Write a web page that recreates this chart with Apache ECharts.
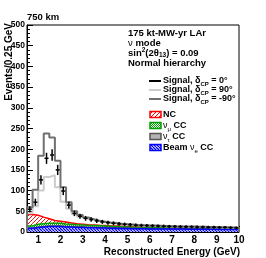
<!DOCTYPE html>
<html><head><meta charset="utf-8">
<script src="https://cdn.jsdelivr.net/npm/echarts@6/dist/echarts.min.js"></script>
<style>html,body{margin:0;padding:0;background:#fff}#c{width:266px;height:258px}</style>
</head><body><div id="c"></div>
<script>
// ---- Data (bins of 0.25 GeV from 0.5 to 10 GeV) ----
const binStart = 0.5;
const binWidth = 0.25;
const xTickLabels = [1,2,3,4,5,6,7,8,9,10];
// background components (stacked, bottom to top)
const beamNueCC = [9,11,12,13,13,13,12,12,11,11, 10,10,9.5,9.5,9,9,8.5,8.5,8,8, 8,7.5,7.5,7.5,7,7,7,7,6.5,6.5, 6.5,6.5,6.5,6.5,6,6,6,6];
const nutauCC   = [0.3,0.5,1,1.5,1.5,1.5,1.5,1.5,1.5,1.5, 1.5,1.5,1.5,1.5,1.2,1.2,1.2,1.2,1,1, 1,1,1,1,1,0.8,0.8,0.8,0.8,0.8, 0.8,0.8,0.7,0.7,0.7,0.7,0.6,0.6];
const numuCC    = [5,7,7,6.5,6.5,6.5,6,5.5,5,4.5, 4.5,4,4,3.5,3.5,3,3,2.5,2.5,2.5, 2,2,2,2,2,2,1.8,1.8,1.8,1.8, 1.6,1.6,1.6,1.5,1.5,1.5,1.4,1.4];
const ncBkg     = [28,22,16,11,7,5,4.5,3,2.5,2, 1.5,1.5,1.2,1.2,1,1,1,0.8,0.8,0.8, 0.7,0.7,0.7,0.6,0.6,0.6,0.6,0.5,0.5,0.5, 0.5,0.5,0.5,0.5,0.5,0.5,0.5,0.5];
// signal + background totals
const sigCPm90 = [60,102,184,238,228,172,108,72,50,41, 35,31,27,25,23,21.5,20,19,18,17, 16.5,16,15.5,15,14.5,14,13.5,13.5,13,13, 12.5,12.5,12,12,11.5,11.5,11,10.5];
const sigCP90  = [45,62,100,133,137,108,73,56,43,36, 32,29,26,24,22,20.5,19.5,18.5,17.5,16.5, 16,15.5,15,14.5,14,13.5,13.5,13,12.5,12.5, 12,12,11.5,11.5,11,11,10.5,10];
const sigCP0   = [55,72,126,178,186,150,99,65,45,38, 33,30,27,24.5,22.5,21,19.5,18.5,17.5,16.5, 16,15.5,15,14.5,14,13.5,13.5,13,12.5,12.5, 12,12,11.5,11.5,11,11,10.5,10];

const nBins = sigCP0.length;
const edges = [];
for (let i = 0; i <= nBins; i++) edges.push(binStart + binWidth * i);

// ---- patterns ----
function hatch(color, spacing, lw, dir) {
  const c = document.createElement('canvas');
  c.width = spacing; c.height = spacing;
  const g = c.getContext('2d');
  g.fillStyle = '#fff'; g.fillRect(0, 0, spacing, spacing);
  g.strokeStyle = color; g.lineWidth = lw;
  for (let k = -1; k <= 1; k++) {
    g.beginPath();
    if (dir === '/') { g.moveTo(k*spacing, spacing); g.lineTo(k*spacing + spacing, 0); }
    else { g.moveTo(k*spacing, 0); g.lineTo(k*spacing + spacing, spacing); }
    g.stroke();
  }
  return { image: c, repeat: 'repeat' };
}
function dots(color) {
  const c = document.createElement('canvas');
  c.width = 2; c.height = 2;
  const g = c.getContext('2d');
  g.fillStyle = '#fff'; g.fillRect(0, 0, 2, 2);
  g.fillStyle = color; g.fillRect(0, 0, 1, 1); g.fillRect(1, 1, 1, 1);
  return { image: c, repeat: 'repeat' };
}
const RED = '#ff0000', GREEN = '#00a000', BLUE = '#0000ff', TAU = '#555555';
const patNC = hatch(RED, 4, 1, '/');
const patNumu = dots(GREEN);
const patNue = hatch(BLUE, 3, 1.3, '\\');
const fillTau = '#b4b4b4';

// cumulative stacks
const comps = [
  { name: 'beam', vals: beamNueCC, fill: patNue, stroke: BLUE },
  { name: 'tau', vals: nutauCC, fill: fillTau, stroke: TAU },
  { name: 'numu', vals: numuCC, fill: patNumu, stroke: GREEN },
  { name: 'nc', vals: ncBkg, fill: patNC, stroke: RED }
];
let running = new Array(nBins).fill(0);
comps.forEach(cmp => {
  cmp.lo = running.slice();
  cmp.hi = running.map((v, i) => v + cmp.vals[i]);
  running = cmp.hi.slice();
});

function stepData(vals) {
  const d = [[edges[0], 0]];
  for (let i = 0; i < vals.length; i++) d.push([edges[i], vals[i]]);
  d.push([edges[vals.length], vals[vals.length - 1]]);
  d.push([edges[vals.length], 0]);
  return d;
}

const series = [];
comps.forEach((cmp, ci) => {
  series.push({
    type: 'custom', z: 2 + ci * 0.01, silent: true, clip: true,
    data: cmp.vals.map((v, i) => [edges[i], edges[i + 1], cmp.lo[i], cmp.hi[i]]),
    encode: { x: [0, 1], y: [2, 3] },
    renderItem: function (params, api) {
      const p0 = api.coord([api.value(0), api.value(3)]);
      const p1 = api.coord([api.value(1), api.value(2)]);
      return { type: 'rect', shape: { x: p0[0], y: p0[1], width: p1[0] - p0[0], height: p1[1] - p0[1] },
               style: { fill: cmp.fill, stroke: null } };
    }
  });
});
comps.forEach((cmp, ci) => {
  series.push({
    type: 'line', step: 'end', z: 3 + (3 - ci) * 0.01, showSymbol: false, silent: true,
    data: stepData(cmp.hi), lineStyle: { color: cmp.stroke, width: 1.5 }
  });
});
series.push({ type: 'line', step: 'end', z: 4, showSymbol: false, silent: true,
  data: stepData(sigCP90), lineStyle: { color: '#cccccc', width: 2 } });
series.push({ type: 'line', step: 'end', z: 4.1, showSymbol: false, silent: true,
  data: stepData(sigCPm90), lineStyle: { color: '#707070', width: 2 } });
series.push({
  type: 'custom', z: 5, silent: true,
  data: sigCP0.map((v, i) => [(edges[i] + edges[i + 1]) / 2, v, Math.sqrt(v)]),
  encode: { x: 0, y: 1 },
  renderItem: function (params, api) {
    const x = api.value(0), y = api.value(1), e = api.value(2);
    const c = api.coord([x, y]);
    const l = api.coord([x - 0.09, y]);
    const r = api.coord([x + 0.09, y]);
    const t = api.coord([x, y + e]);
    const b = api.coord([x, y - e]);
    const st = { stroke: '#000', lineWidth: 1.5 };
    return { type: 'group', children: [
      { type: 'line', shape: { x1: l[0], y1: c[1], x2: r[0], y2: c[1] }, style: st },
      { type: 'line', shape: { x1: c[0], y1: t[1], x2: c[0], y2: b[1] }, style: st }
    ] };
  }
});

const FONT = 'Liberation Sans, Arial, Helvetica, sans-serif';
const minorX = [];
for (let v = 0.5; v <= 10.001; v += 0.5) if (Math.abs(v - Math.round(v)) > 0.01) minorX.push(v);

function txt(x, y, text, rich) {
  return { type: 'text', x: x, y: y, z: 100,
    style: { text: text, rich: rich, fontFamily: FONT, fontSize: 9, fontWeight: 'bold', fill: '#000',
             align: 'left', verticalAlign: 'middle' } };
}
const R = {
  b: { fontFamily: FONT, fontSize: 9, fontWeight: 'bold', fill: '#000', lineHeight: 12 },
  n: { fontFamily: FONT, fontSize: 9, fontWeight: 'normal', fill: '#000', lineHeight: 12 },
  s: { fontFamily: FONT, fontSize: 6, fontWeight: 'bold', fill: '#000', lineHeight: 12, verticalAlign: 'bottom' },
  sn: { fontFamily: FONT, fontSize: 6, fontWeight: 'normal', fill: '#000', lineHeight: 12, verticalAlign: 'bottom' },
  B: { fontFamily: FONT, fontSize: 9.5, fontWeight: 'bold', fill: '#000', lineHeight: 12 },
  Bs: { fontFamily: FONT, fontSize: 6.5, fontWeight: 'bold', fill: '#000', lineHeight: 12, verticalAlign: 'bottom' },
  Bu: { fontFamily: FONT, fontSize: 6.5, fontWeight: 'bold', fill: '#000', lineHeight: 12, verticalAlign: 'top' },
  Bn: { fontFamily: FONT, fontSize: 9.5, fontWeight: 'normal', fill: '#000', lineHeight: 12 }
};

const graphics = [
  { type: 'text', x: 27, y: 17, z: 100,
    style: { text: '750 km', fontFamily: FONT, fontSize: 9.5, fontWeight: 'bold', fill: '#000', align: 'left', verticalAlign: 'middle' } },
  { type: 'text', x: 9, y: 23, rotation: Math.PI / 2, z: 100,
    style: { text: 'Events/0.25 GeV', fontFamily: FONT, fontSize: 10, fontWeight: 'bold', fill: '#000', align: 'right', verticalAlign: 'middle' } },
  { type: 'text', x: 240, y: 252, z: 100,
    style: { text: 'Reconstructed Energy (GeV)', fontFamily: FONT, fontSize: 10, fontWeight: 'bold', fill: '#000', align: 'right', verticalAlign: 'middle' } },
  txt(128, 33, '{B|175 kt-MW-yr LAr}', R),
  txt(128, 43, '{Bn|ν}{B| mode}', R),
  txt(128, 53, '{B|sin}{Bu|2}{B|(2θ}{Bs|13}{B|) = 0.09}', R),
  txt(128, 63, '{B|Normal hierarchy}', R),
  txt(163, 81, '{b|Signal, δ}{s|CP}{b| = 0°}', R),
  txt(163, 90, '{b|Signal, δ}{s|CP}{b| = 90°}', R),
  txt(163, 99, '{b|Signal, δ}{s|CP}{b| = -90°}', R),
  txt(163, 115, '{b|NC}', R),
  txt(163, 126, '{n|ν}{sn|μ}{b| CC}', R),
  txt(163, 137, '{n|ν}{sn|τ}{b| CC}', R),
  txt(163, 148, '{b|Beam }{n|ν}{sn|e}{b| CC}', R),
  { type: 'line', z: 100, shape: { x1: 149, y1: 81, x2: 161, y2: 81 }, style: { stroke: '#000', lineWidth: 2 } },
  { type: 'line', z: 100, shape: { x1: 149, y1: 90, x2: 161, y2: 90 }, style: { stroke: '#cccccc', lineWidth: 2 } },
  { type: 'line', z: 100, shape: { x1: 149, y1: 99, x2: 161, y2: 99 }, style: { stroke: '#707070', lineWidth: 2 } },
  { type: 'rect', z: 100, shape: { x: 150, y: 111.5, width: 11, height: 6 }, style: { fill: patNC, stroke: RED, lineWidth: 1.5 } },
  { type: 'rect', z: 100, shape: { x: 150, y: 122.5, width: 11, height: 6 }, style: { fill: patNumu, stroke: GREEN, lineWidth: 1.5 } },
  { type: 'rect', z: 100, shape: { x: 150, y: 133.5, width: 11, height: 6 }, style: { fill: fillTau, stroke: TAU, lineWidth: 1.5 } },
  { type: 'rect', z: 100, shape: { x: 150, y: 144.5, width: 11, height: 6 }, style: { fill: patNue, stroke: BLUE, lineWidth: 1.5 } }
];

const chart = echarts.init(document.getElementById('c'), null, { renderer: 'canvas' });
chart.setOption({
  animation: false,
  backgroundColor: '#fff',
  grid: { left: 27, right: 27, top: 25, bottom: 26, show: true, borderColor: '#000', borderWidth: 1, backgroundColor: 'transparent' },
  xAxis: [{
    type: 'value', min: binStart, max: 10, gridIndex: 0,
    axisLine: { show: true, onZero: false, lineStyle: { color: '#000', width: 1 } },
    axisTick: { show: true, inside: true, length: 6, customValues: xTickLabels, lineStyle: { color: '#000' } },
    axisLabel: { show: true, customValues: xTickLabels, margin: 3, fontFamily: FONT, fontSize: 10, fontWeight: 'bold', color: '#000' },
    splitLine: { show: false }
  }, {
    type: 'value', min: binStart, max: 10, gridIndex: 0, position: 'bottom',
    axisLine: { show: false },
    axisTick: { show: true, inside: true, length: 3, customValues: minorX, lineStyle: { color: '#000' } },
    axisLabel: { show: false },
    splitLine: { show: false }
  }],
  yAxis: {
    type: 'value', min: 0, max: 500, interval: 50,
    axisLine: { show: true, lineStyle: { color: '#000', width: 1 } },
    axisTick: { show: true, inside: true, length: 6, lineStyle: { color: '#000' } },
    minorTick: { show: true, splitNumber: 5, length: 3, lineStyle: { color: '#000' } },
    axisLabel: { margin: 2, fontFamily: FONT, fontSize: 8.5, fontWeight: 'bold', color: '#000' },
    splitLine: { show: false }
  },
  series: series,
  graphic: graphics
});
</script>
</body></html>
